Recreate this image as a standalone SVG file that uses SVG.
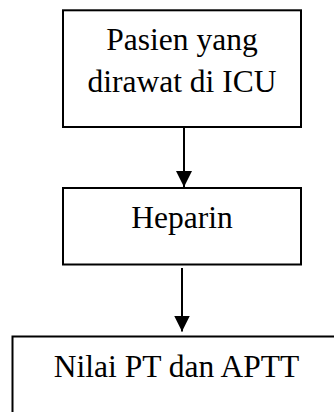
<svg xmlns="http://www.w3.org/2000/svg" width="334" height="412" viewBox="0 0 334 412">
<style>
.box{fill:#fff;stroke:#000;stroke-width:2}
.t{font-family:"Liberation Serif","Times New Roman",serif;font-size:31.5px;fill:#000;text-anchor:middle}
.c{stroke:#000;stroke-width:2;fill:none}
</style>
<defs>
<marker id="ah" markerUnits="userSpaceOnUse" markerWidth="16" markerHeight="16" viewBox="0 0 16 16" refX="16" refY="8" orient="auto">
<path d="M0,0 L16,8 L0,16 Z" fill="#000"/>
</marker>
</defs>
<rect width="334" height="412" fill="#fff"/>
<g id="n1">
<rect class="box" x="63" y="10.3" width="238" height="116.7"/>
<text class="t" x="182" y="50">Pasien yang</text>
<text class="t" x="182" y="91.5">dirawat di ICU</text>
</g>
<g id="n2">
<rect class="box" x="63" y="188" width="238" height="76.5"/>
<text class="t" x="182" y="228">Heparin</text>
</g>
<g id="n3">
<rect class="box" x="12.5" y="336.5" width="340" height="100"/>
<text class="t" x="176.5" y="377">Nilai PT dan APTT</text>
</g>
<g id="connectors">
<line class="c" x1="184" y1="127" x2="184" y2="187" marker-end="url(#ah)"/>
<line class="c" x1="182" y1="268" x2="182" y2="331.5" marker-end="url(#ah)"/>
</g>
</svg>
